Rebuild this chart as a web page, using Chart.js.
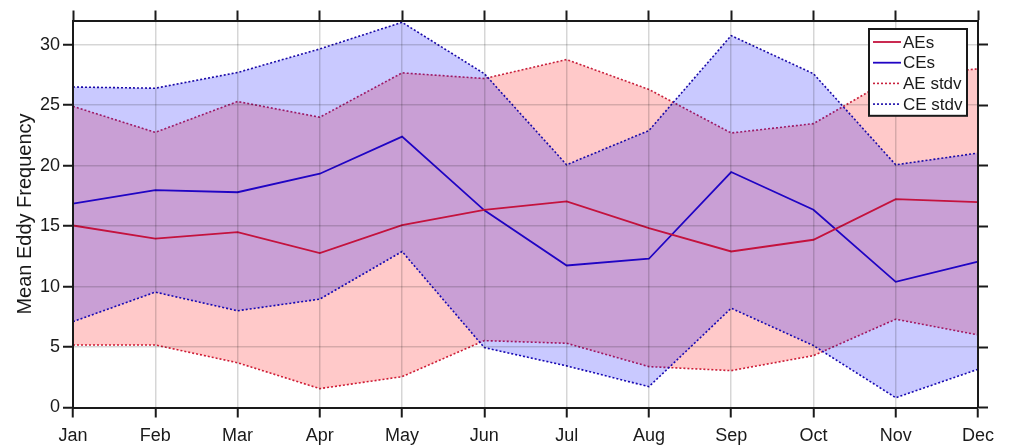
<!DOCTYPE html>
<html>
<head>
<meta charset="utf-8">
<script src="https://cdn.jsdelivr.net/npm/chart.js@4/dist/chart.umd.min.js"></script>
<style>
  html, body { margin: 0; padding: 0; background: #fff; }
  #wrap { width: 1009px; height: 446px; position: relative; }
</style>
</head>
<body>
<div id="wrap"><canvas id="c" width="1009" height="446"></canvas></div>
<script>
// Monthly mean eddy counts with +/- one standard deviation envelopes
const months = ['Jan', 'Feb', 'Mar', 'Apr', 'May', 'Jun', 'Jul', 'Aug', 'Sep', 'Oct', 'Nov', 'Dec'];
const aeMean  = [15.05, 13.97, 14.5, 12.76, 15.08, 16.35, 17.04, 14.83, 12.9, 13.87, 17.23, 16.98];
const ceMean  = [16.85, 17.98, 17.8, 19.33, 22.4, 16.3, 11.74, 12.3, 19.47, 16.35, 10.39, 12.07];
const aeUpper = [24.9, 22.75, 25.3, 24.0, 27.67, 27.2, 28.77, 26.3, 22.7, 23.47, 27.4, 28.0];
const aeLower = [5.17, 5.17, 3.7, 1.56, 2.55, 5.53, 5.31, 3.38, 3.05, 4.29, 7.3, 6.0];
const ceUpper = [26.5, 26.4, 27.7, 29.65, 31.85, 27.6, 20.07, 22.9, 30.75, 27.6, 20.07, 21.04];
const ceLower = [7.1, 9.54, 8.0, 8.96, 12.9, 4.95, 3.44, 1.72, 8.21, 5.12, 0.81, 3.16];
const yTicks  = [0, 5, 10, 15, 20, 25, 30];

const AE_LINE = '#c4123e';
const CE_LINE = '#2004c4';
const AE_DOT = '#c8203c';
const CE_DOT = '#1a0aa8';
const AE_FILL = 'rgba(255, 0, 0, 0.21)';
const CE_FILL = 'rgba(0, 0, 255, 0.21)';
const INK = '#1a1a1a';
const GRID = 'rgba(0, 0, 0, 0.16)';
const FONT = "'Liberation Sans', Arial, Helvetica, sans-serif";

// Boxed legend in the upper-right corner of the plot area
const boxLegend = {
  id: 'boxLegend',
  afterDraw(chart, args, opts) {
    const ctx = chart.ctx;
    const items = opts.items;
    const x0 = 869, y0 = 29, w = 98, rowH = 20.7;
    const h = rowH * items.length + 4;
    ctx.save();
    ctx.fillStyle = '#fff';
    ctx.fillRect(x0, y0, w, h);
    ctx.lineWidth = 2;
    ctx.strokeStyle = INK;
    ctx.strokeRect(x0, y0, w, h);
    ctx.font = '17px ' + FONT;
    ctx.textBaseline = 'middle';
    items.forEach((idx, i) => {
      const ds = chart.data.datasets[idx];
      const cy = y0 + 13 + i * rowH;
      ctx.beginPath();
      ctx.strokeStyle = ds.borderColor;
      ctx.lineWidth = ds.borderWidth;
      ctx.setLineDash(ds.borderDash || []);
      ctx.moveTo(x0 + 4, cy);
      ctx.lineTo(x0 + 32, cy);
      ctx.stroke();
      ctx.setLineDash([]);
      ctx.fillStyle = INK;
      ctx.fillText(ds.label, x0 + 34, cy + 1);
    });
    ctx.restore();
  }
};

const lineDs = (label, data, color, dashed, fill) => ({
  label, data,
  borderColor: color,
  borderWidth: dashed ? 1.6 : 1.8,
  borderDash: dashed ? [2, 2] : [],
  pointRadius: 0,
  tension: 0,
  fill: fill || false
});

new Chart(document.getElementById('c'), {
  type: 'line',
  data: {
    labels: months,
    datasets: [
      lineDs('AEs', aeMean, AE_LINE, false),
      lineDs('CEs', ceMean, CE_LINE, false),
      // CE band is listed before the AE band so its translucent fill lies on top
      lineDs('CE stdv', ceUpper, CE_DOT, true, { target: 3, above: CE_FILL, below: CE_FILL }),
      lineDs('', ceLower, CE_DOT, true),
      lineDs('AE stdv', aeUpper, AE_DOT, true, { target: 5, above: AE_FILL, below: AE_FILL }),
      lineDs('', aeLower, AE_DOT, true)
    ]
  },
  options: {
    responsive: false,
    animation: false,
    layout: { padding: 0 },
    plugins: {
      legend: { display: false },
      tooltip: { enabled: false },
      boxLegend: { items: [0, 1, 4, 2] }
    },
    scales: {
      x: {
        type: 'category',
        position: 'bottom',
        offset: false,
        grid: { color: GRID, lineWidth: 1.5, tickColor: INK, tickLength: 10, tickWidth: 2, z: 1 },
        border: { color: INK, width: 2, z: 2 },
        ticks: { color: INK, font: { family: FONT, size: 18 }, padding: 8, maxRotation: 0, autoSkip: false },
        afterFit(s) { s.height = 38.5; }
      },
      x2: {
        type: 'category',
        position: 'top',
        offset: false,
        grid: { drawOnChartArea: false, tickColor: INK, tickLength: 10, tickWidth: 2, z: 1 },
        border: { color: INK, width: 2, z: 2 },
        ticks: { display: false, autoSkip: false },
        afterFit(s) { s.height = 20.5; }
      },
      y: {
        position: 'left',
        min: 0,
        max: 32,
        afterBuildTicks(s) { s.ticks = yTicks.map(v => ({ value: v })); },
        grid: { color: GRID, lineWidth: 1.5, tickColor: INK, tickLength: 10, tickWidth: 2, z: 1 },
        border: { color: INK, width: 2, z: 2 },
        ticks: { color: INK, font: { family: FONT, size: 18 }, padding: 3 },
        title: { display: true, text: 'Mean Eddy Frequency', color: INK, font: { family: FONT, size: 20 }, padding: { top: 13, bottom: 0 } },
        afterFit(s) { s.width = 73; }
      },
      y2: {
        position: 'right',
        min: 0,
        max: 32,
        afterBuildTicks(s) { s.ticks = yTicks.map(v => ({ value: v })); },
        grid: { drawOnChartArea: false, tickColor: INK, tickLength: 10, tickWidth: 2, z: 1 },
        border: { color: INK, width: 2, z: 2 },
        ticks: { display: false },
        afterFit(s) { s.width = 31; }
      }
    }
  },
  plugins: [boxLegend]
});
</script>
</body>
</html>
